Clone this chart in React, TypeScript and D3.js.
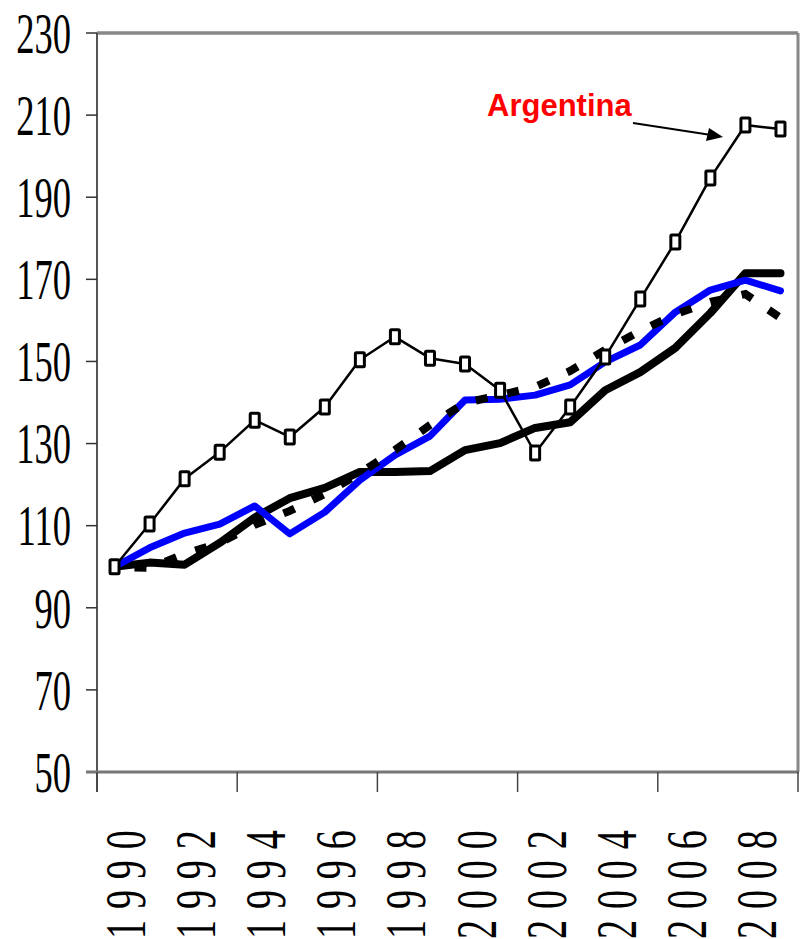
import React from 'react';
import * as d3 from 'd3';

const years = [1990, 1991, 1992, 1993, 1994, 1995, 1996, 1997, 1998, 1999, 2000, 2001, 2002, 2003, 2004, 2005, 2006, 2007, 2008, 2009];
const xTickLabels = ['1990', '1992', '1994', '1996', '1998', '2000', '2002', '2004', '2006', '2008'];
const yTicks = [50, 70, 90, 110, 130, 150, 170, 190, 210, 230];

const argentina = [100, 110.4, 121.4, 127.9, 135.7, 131.6, 138.9, 150.4, 156.0, 150.8, 149.4, 143.0, 127.7, 138.9, 151.1, 165.2, 179.1, 194.7, 207.6, 206.6];
const blackSolid = [100, 101, 100.5, 105.8, 112, 116.7, 119.2, 123.1, 123.1, 123.3, 128.4, 130.1, 133.8, 135.2, 143, 147.4, 153.3, 161.8, 171.5, 171.5];
const blueSeries = [100, 104.6, 108.2, 110.4, 114.8, 108, 113.3, 121.1, 127.2, 131.8, 140.6, 140.8, 141.8, 144.3, 149.9, 154, 162, 167.4, 169.8, 167.2];
const dashedSeries = [100, 99.7, 103.1, 105.8, 110.2, 113.6, 117.7, 122.8, 128.4, 134.5, 139.9, 141.8, 143.8, 147.7, 152.8, 157.4, 161.5, 164.5, 166.4, 160.6];

const W = 800;
const H = 939;
const left = 97;
const right = 798;
const top = 33;
const bottom = 772;

export default function App() {
  const x = d3.scaleBand<number>().domain(years).range([left, right]).padding(0);
  const y = d3.scaleLinear().domain([50, 230]).range([bottom, top]);
  const bw = x.bandwidth();
  const cx = (yr: number) => (x(yr) as number) + bw / 2;

  const line = d3
    .line<number>()
    .x((_, i) => cx(years[i]))
    .y((d) => y(d));

  const tickIdx = [0, 4, 8, 12, 16, 20];
  const serif = 'Liberation Serif, Times New Roman, Tinos, DejaVu Serif, serif';

  return (
    <svg width={W} height={H} style={{ position: 'absolute', left: 0, top: 0 }} xmlns="http://www.w3.org/2000/svg">
      <rect x={0} y={0} width={W} height={H} fill="#fff" />
      <line x1={left} x2={right} y1={top} y2={top} stroke="#888" strokeWidth={3.5} />
      <line x1={right} x2={right} y1={top} y2={bottom} stroke="#888" strokeWidth={3} />
      <line x1={left} x2={left} y1={top} y2={bottom + 20} stroke="#555" strokeWidth={2} />
      {yTicks.map((t) => (
        <g key={t}>
          <line x1={86} x2={left} y1={y(t)} y2={y(t)} stroke="#333" strokeWidth={1.5} />
          <text
            transform={`translate(71, ${y(t)}) scale(0.63, 1)`}
            textAnchor="end"
            dy="0.34em"
            style={{ fontFamily: serif }}
            fontSize={58}
            fill="#000"
          >
            {t}
          </text>
        </g>
      ))}
      <line x1={86} x2={right + 1} y1={bottom} y2={bottom} stroke="#777" strokeWidth={3} />
      {tickIdx.map((i) => {
        const xx = left + i * bw;
        return <line key={i} x1={xx} x2={xx} y1={bottom} y2={bottom + 20} stroke="#444" strokeWidth={1.5} />;
      })}
      {xTickLabels.map((lab) => (
        <text
          key={lab}
          transform={`translate(${cx(+lab) + 11.5}, 939) rotate(-90) scale(0.68, 1)`}
          textAnchor="start"
          dy="0.34em"
          style={{ fontFamily: serif, letterSpacing: '16px' }}
          fontSize={56}
          fill="#000"
        >
          {lab}
        </text>
      ))}

      <path d={line(blackSolid) || ''} fill="none" stroke="#000" strokeWidth={8} strokeLinejoin="round" strokeLinecap="round" />
      <path d={line(blueSeries) || ''} fill="none" stroke="#0000ff" strokeWidth={7} strokeLinejoin="round" strokeLinecap="round" />
      <path d={line(dashedSeries) || ''} fill="none" stroke="#000" strokeWidth={8} strokeDasharray="12 20" strokeDashoffset={-20} />
      <path d={line(argentina) || ''} fill="none" stroke="#000" strokeWidth={2.5} strokeLinejoin="round" />
      {argentina.map((v, i) => (
        <rect
          key={i}
          x={cx(years[i]) - 4.5}
          y={y(v) - 7}
          width={9}
          height={14}
          rx={1}
          fill="#fff"
          stroke="#000"
          strokeWidth={3}
        />
      ))}

      <text x={487} y={116} style={{ fontFamily: 'Liberation Sans, Arial, sans-serif' }} fontWeight="bold" fontSize={31} fill="#ff0000">
        Argentina
      </text>
      <line x1={633} y1={123} x2={708} y2={134.5} stroke="#000" strokeWidth={2} />
      <path d="M723,137 L706,141 L709,128 Z" fill="#000" />
    </svg>
  );
}
